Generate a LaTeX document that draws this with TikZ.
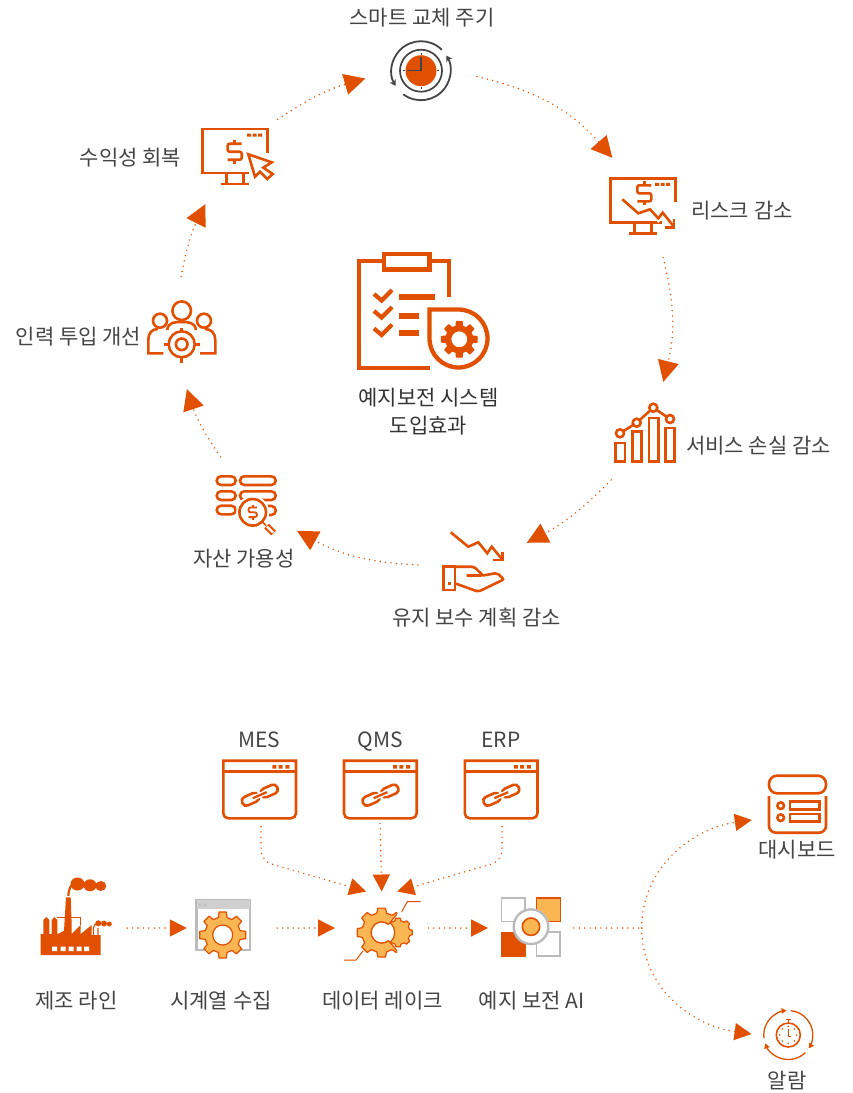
\documentclass[tikz,border=0pt]{standalone}
\usepackage{fontspec}
\setmainfont{Noto Sans CJK KR}
\usepackage{tikz}
\usetikzlibrary{arrows.meta, positioning}
\usepackage{xcolor}
\definecolor{rust}{HTML}{E05000}
\definecolor{honey}{HTML}{FBB654}
\definecolor{ashen}{HTML}{BBBBBB}
\definecolor{inkgray}{HTML}{444444}

\newcommand{\gearpath}[2]{(-14:#2) \foreach \a in {0,45,...,315} { -- (\a-14:#2) -- (\a-9:#1) -- (\a+9:#1) -- (\a+14:#2) } -- cycle}

\tikzset{
  hub/.style={circle, inner sep=0pt, minimum size=112pt},
  spot/.style={rectangle, inner sep=0pt},
  caption/.style={text=inkgray, inner sep=0pt, yshift=-3pt, text height=16pt, text depth=4.5pt, font=\fontsize{21}{24}\selectfont},
  icon/.style={draw=rust, line width=2.6pt, line join=miter},
  ringline/.style={draw=rust, line width=1.6pt, dash pattern=on 0pt off 5.4pt, line cap=round,
    -{Triangle[length=21pt,width=21pt,fill=rust]}},
  flowline/.style={draw=rust, line width=1.6pt, dash pattern=on 0pt off 5.4pt, line cap=round,
    -{Triangle[length=17pt,width=17pt,fill=rust]}},
  pics/dollar/.style={code={
    \draw[rust, rounded corners=2pt] (7,-8) -- (-7,-8) -- (-7,0) -- (7,0) -- (7,8) -- (-7,8);
    \draw[rust] (0,-12) -- (0,-8) (0,8) -- (0,12);
  }},
  pics/gear/.style n args={4}{code={
    \filldraw[draw=rust, fill=#4, line width=1.2pt, line join=round] \gearpath{#1}{#2};
    \filldraw[draw=rust, fill=white, line width=1.2pt] (0,0) circle (#3);
  }},
  pics/monitor/.style={code={
    \draw[icon] (65,24) -- (65,0) -- (0,0) -- (0,44) -- (#1,44);
    \draw[icon] (24,44) -- (24,55) (41,44) -- (41,55);
    \draw[icon, line width=2.8pt] (18.5,55) -- (46.5,55);
    \fill[rust] (44.5,4.6) rectangle +(4,3) (50,4.6) rectangle +(4,3) (55.5,4.6) rectangle +(4,3);
  }},
  pics/linkwin/.style={code={
    \draw[icon] (0,0) -- (72.7,0) {[rounded corners=5pt] -- (72.7,57.6) -- (0,57.6)} -- cycle;
    \draw[icon, line width=3pt] (0,11) -- (72.7,11);
    \fill[rust] (49,4.4) rectangle +(4,3.6) (55.3,4.4) rectangle +(4,3.6) (62,4.4) rectangle +(4,3.6);
    \draw[icon, rotate around={24:(27,38.6)}, rounded corners=4pt] (18.3,34) rectangle (35.7,43.2);
    \draw[icon, rotate around={24:(46,30.3)}, rounded corners=4pt] (37.3,25.7) rectangle (54.7,34.9);
    \draw[white, line width=5pt] (31.9,36.45) -- (41.1,32.45);
    \draw[icon, line width=2.3pt] (29.6,37.45) -- (43.4,31.45);
  }},
}

\begin{document}
\begin{tikzpicture}[x=1pt, y=-1pt]
  \useasboundingbox (0,0) rectangle (852,1093);

  % upper ring
  \node[hub] (clock) at (421,70.7) {};
  \node[hub] (risk) at (643,205) {};
  \node[hub] (loss) at (645,435) {};
  \node[hub] (hand) at (474,562) {};
  \node[hub] (asset) at (246,507) {};
  \node[hub] (people) at (182,333) {};
  \node[hub] (cursor) at (236,157) {};

  \draw[ringline] (clock.-6) to[bend left=18] (risk.123);
  \draw[ringline] (risk.-69) to[bend left=14] (loss.71);
  \draw[ringline] (loss.233) to[bend left=9] (hand.20);
  \draw[ringline] (hand.183) to[bend left=13] (asset.-25);
  \draw[ringline] (asset.117) to[bend left=8] (people.-85);
  \draw[ringline] (people.91) to[bend left=8] (cursor.237);
  \draw[ringline] (cursor.42) to[bend left=9] (clock.188);

  \node[caption] (clocktext) at (422,17) {스마트 교체 주기};
  \node[caption] (cursortext) at (130.5,157) {수익성 회복};
  \node[caption] (risktext) at (742,210) {리스크 감소};
  \node[caption] (losstext) at (758.5,444.5) {서비스 손실 감소};
  \node[caption] (handtext) at (476.5,617) {유지 보수 계획 감소};
  \node[caption] (assettext) at (243.7,558) {자산 가용성};
  \node[caption] (peopletext) at (78.5,336) {인력 투입 개선};
  \node[inner sep=0pt, align=center, font=\fontsize{21}{28}\selectfont, text=black!80] (title) at (428.5,411.5) {예지보전 시스템\\도입효과};

  % clock
  \begin{scope}[shift={(421,70.7)}]
    \draw[inkgray, line width=1.8pt, -{Stealth[length=6pt,width=7pt]}] (-45:29.5) arc[start angle=-45, end angle=-211, radius=29.5];
    \draw[inkgray, line width=1.8pt, -{Stealth[length=6pt,width=7pt]}] (-233:29.5) arc[start angle=-233, end angle=-391, radius=29.5];
    \draw[inkgray, line width=1.7pt] (0,0) circle (21);
    \fill[rust] (0,0) circle (15.5);
    \draw[inkgray, line width=1.5pt] (0,-14) -- (0,0) -- (-14,0);
    \draw[inkgray, line width=1pt] (0,-18) -- (0,-16) (0,16) -- (0,18) (-18,0) -- (-16,0) (16,0) -- (18,0);
  \end{scope}

  % monitor with cursor
  \pic at (202.7,129) {monitor=46.3};
  \pic[line width=2.6pt] at (234.7,151.7) {dollar};
  \draw[icon, fill=white, line join=miter] (248.3,154.3) -- (271.7,162.3) -- (263.3,167.7) -- (272.7,174) -- (267.3,179) -- (260,171.7) -- (255,176.7) -- cycle;

  % monitor with falling curve
  \pic at (610.7,178.3) {monitor=51};
  \pic[line width=2.6pt] at (644.3,193.3) {dollar};
  \draw[white, line width=6pt] (622.3,199.3) -- (638.3,213.3) -- (650,209.3) -- (658.3,218.3) -- (662.7,212.7) -- (674,226.7);
  \draw[icon] (622.3,199.3) -- (638.3,213.3) -- (650,209.3) -- (658.3,218.3) -- (662.7,212.7) -- (674,226.7);
  \draw[icon] (674,219.3) -- (674,227.3) -- (665,227.3);

  % bars with trend
  \draw[icon] (615.7,443) rectangle (625,461.7) (632.3,431.7) rectangle (641.7,461.7) (649,418) rectangle (658.3,461.7) (665.7,428) rectangle (674.3,461.7);
  \draw[icon] (620,433.3) -- (636.7,422.7) -- (653.3,407.7) -- (670,419);
  \draw[icon, fill=white] (620,433.3) circle (4) (636.7,422.7) circle (4) (653.3,407.7) circle (4) (670,419) circle (4);

  % open hand with falling curve
  \draw[icon] (450.7,532.3) -- (468.3,546.7) -- (478.3,542.3) -- (487.3,553.3) -- (491.7,546.7) -- (502.7,560);
  \draw[icon] (502.7,551.7) -- (502.7,560) -- (493.3,560);
  \draw[icon] (443.3,566.7) rectangle (455,590);
  \fill[rust] (448,581.5) rectangle +(3,3.5);
  \draw[icon, rounded corners=2pt] (455,566.7) -- (474,566.7) -- (483,575.5) -- (466.7,575.5) (483,575.5) -- (497,573) -- (504,579.3) -- (478.3,591.7) -- (455,583.3);

  % coins with lens
  \draw[icon, rounded corners=4.3pt] (216.7,476.3) rectangle (235.7,485) (216.7,491.3) rectangle (235.7,500) (216.7,505.7) rectangle (235.7,514.3);
  \draw[icon, rounded corners=4.3pt] (240,476.3) rectangle (275.7,485) (240,491.3) rectangle (275.7,500) (245,506) rectangle (275.7,515);
  \fill[white] (252.7,512.3) circle (16.5);
  \draw[icon] (252.7,512.3) circle (13.3);
  \pic[scale=.6, line width=1.8pt] at (252.7,512.3) {dollar};
  \draw[icon, line width=1.6pt] (262.5,522) -- (266,525.5);
  \draw[icon, line width=6.4pt] (266.5,526) -- (273.5,533);
  \draw[white, line width=2.2pt] (267,526.5) -- (273,532.5);

  % people with target
  \draw[icon] (181.7,310.7) circle (9.3) (160,320.7) circle (7) (204,320.7) circle (7);
  \draw[icon] (167.3,330) .. controls (168,322) and (175,322) .. (181.7,322) .. controls (188,322) and (195,322) .. (196,330);
  \draw[icon] (163.3,353.3) -- (148.3,353.3) -- (148.3,340) .. controls (148.3,333) and (152,329) .. (158,329);
  \draw[icon] (200,353.3) -- (215.3,353.3) -- (215.3,340) .. controls (215.3,333) and (211,329) .. (205,329);
  \fill[white] (181.7,344.3) circle (15);
  \draw[icon] (181.7,344.3) circle (13) (181.7,344.3) circle (5.8);
  \draw[icon] (181.7,327.5) -- (181.7,332) (181.7,356.5) -- (181.7,362.5) (164,344.3) -- (169,344.3) (194.5,344.3) -- (200,344.3);

  % clipboard with gear drop
  \draw[icon, line width=4.3pt] (449,297.3) -- (449,261) -- (359.3,261) -- (359.3,368.3) -- (430,368.3);
  \draw[icon, line width=4.3pt, fill=white] (383.8,253.8) rectangle (429.6,269.6);
  \draw[icon, line width=4.2pt] (374,294) -- (381.7,300.5) -- (392,290);
  \draw[icon, line width=4.2pt] (374,311) -- (381.7,317.5) -- (392,307);
  \draw[icon, line width=4.2pt] (374,328.5) -- (381.7,335) -- (392,324.5);
  \draw[icon, line width=5.8pt] (399,297.3) -- (435,297.3) (399,316) -- (419,316) (399,332.7) -- (419,332.7);
  \draw[icon, line width=4.3pt, fill=white] (429.5,309.5) -- (458.5,309.5) arc[start angle=-90, end angle=180, radius=29] -- cycle;
  \pic at (459.3,339.3) {gear={18}{13.5}{8.6}{rust}};

  % lower row
  \node[spot, minimum width=107pt, minimum height=60pt] (factory) at (73.5,928) {};
  \node[spot, minimum width=90pt, minimum height=60pt] (series) at (232,928) {};
  \node[spot, minimum width=93pt, minimum height=72.6pt] (lake) at (381.7,928) {};
  \node[spot, minimum width=85.4pt, minimum height=60pt] (model) at (531,928) {};
  \node[spot, minimum width=72.7pt, minimum height=57.6pt] (mes) at (261,789.5) {};
  \node[spot, minimum width=72.7pt, minimum height=57.6pt] (qms) at (380,789.5) {};
  \node[spot, minimum width=72.7pt, minimum height=57.6pt] (erp) at (502,789.5) {};
  \node[spot, minimum width=100pt, minimum height=60pt] (board) at (802,820) {};
  \node[spot, minimum width=72.6pt, minimum height=60pt] (alarm) at (788,1034) {};
  \coordinate (mesbend) at (261,861);
  \coordinate (erpbend) at (502,861);
  \coordinate (split) at (641.7,928);

  \draw[flowline, rounded corners=11pt, shorten <=8pt] (mes.south) -- (mesbend) -- (lake.113);
  \draw[flowline, shorten <=5pt] (qms.south) -- (lake.north);
  \draw[flowline, rounded corners=11pt, shorten <=8pt] (erp.south) -- (erpbend) -- (lake.67);
  \draw[flowline] (factory.east) -- (series.west);
  \draw[flowline] (series.east) -- (lake.west);
  \draw[flowline] (lake.east) -- (model.west);
  \draw[flowline, -] (model.east) -- (split);
  \draw[flowline] (split) to[out=90, in=188] (board.west);
  \draw[flowline] (split) to[out=-90, in=172] (alarm.west);

  \node[caption] (mestext) at (259.3,739) {MES};
  \node[caption] (qmstext) at (380,739) {QMS};
  \node[caption] (erptext) at (501,739) {ERP};
  \node[caption] (factorytext) at (76.5,999.5) {제조 라인};
  \node[caption] (seriestext) at (221,999.5) {시계열 수집};
  \node[caption] (laketext) at (382.5,999.5) {데이터 레이크};
  \node[caption] (modeltext) at (531.5,999.5) {예지 보전 AI};
  \node[caption] (boardtext) at (797,848.5) {대시보드};
  \node[caption] (alarmtext) at (787,1080) {알람};

  % link windows
  \pic at (223.3,760.7) {linkwin};
  \pic at (344,760.7) {linkwin};
  \pic at (464.8,760.7) {linkwin};

  % factory
  \fill[rust] (40.7,955) -- (40.7,934) -- (43.3,934) -- (43.3,920) -- (46.3,917) -- (49.3,920) -- (49.3,934) -- (51.7,934) -- (51.7,920) -- (54.5,917) -- (57.3,920) -- (57.3,934) -- (59.3,933.3) -- (64,930.7) -- (66,897.3) -- (70.7,897.3) -- (71.7,925) -- (71.7,934) -- (80.7,925) -- (80.7,934) -- (91.7,925) -- (91.7,935) -- (100.7,935) -- (100.7,955) -- cycle;
  \draw[rust, line width=1pt] (56.7,917.6) -- (80.7,917.6) -- (80.7,925);
  \fill[white] (52,946.7) rectangle +(5,4.3) (60.5,946.7) rectangle +(5,4.3) (68.5,946.7) rectangle +(5,4.3) (76.5,946.7) rectangle +(5,4.3) (84,946.7) rectangle +(5,4.3);
  \draw[rust, line width=2.2pt] (68.3,896) .. controls (68.8,888) and (71,884) .. (76,883);
  \fill[rust] (77.5,884) ellipse (7 and 6.5) (90,885.3) ellipse (6.5 and 6) (100.8,886) ellipse (5.5 and 5);
  \draw[rust, line width=1.2pt] (93.5,935) -- (93.5,928) .. controls (94,925) and (95,924) .. (97,923.5) (98,935) -- (98,928);
  \fill[rust] (98.3,923.3) circle (3) (104,923.5) circle (3) (109.3,924) circle (2.5);

  % series window
  \draw[ashen, line width=2.2pt, fill=white] (196.5,900) rectangle (250,950);
  \fill[ashen!70] (196.5,900) rectangle (250,909);
  \fill[ashen] (199,903.5) rectangle +(2,2.5) (204,903.5) rectangle +(2,2.5);
  \pic at (222.7,935) {gear={23.3}{18}{10}{honey}};

  % data lake gears
  \pic at (381.7,932.5) {gear={24.7}{20}{10.5}{honey}};
  \begin{scope}
    \clip (381.7,932.5) -- ++(-50:50) -- ++(0,77) -- cycle;
    \fill[white] (381.7,932.5) circle (27);
    \begin{scope}[shift={(398,932.5)}]
      \filldraw[draw=rust, fill=honey, line width=1.2pt, line join=round] \gearpath{14.5}{12};
    \end{scope}
    \filldraw[draw=rust, fill=white, line width=1.2pt] (381.7,932.5) circle (13);
  \end{scope}
  \fill[white] (381.7,932.5) circle (10.5);
  \draw[rust, line width=1.2pt] (381.7,932.5) ++(50:10.5) arc[start angle=50, end angle=310, radius=10.5];
  \draw[rust, line width=1.2pt] (381.7,932.5) ++(-50:10.5) -- ++(-50:13) (381.7,932.5) ++(50:10.5) -- ++(50:13);
  \draw[rust, line width=1pt] (401.7,911.7) -- (407.3,901.7) -- (420.7,901.7);
  \draw[rust, line width=1pt] (363.3,950.7) -- (356,960) -- (344,960);

  % model squares
  \draw[ashen, line width=1.8pt, fill=white] (501.5,897.8) rectangle (525,921.5) (536.5,931.8) rectangle (560.3,956);
  \draw[rust, line width=1.5pt, fill=honey] (536.5,897.8) rectangle (560.3,921.5);
  \fill[rust] (501,931.7) rectangle (526,956.7);
  \draw[ashen, line width=2.4pt, fill=white] (531,926.7) circle (17.3);
  \draw[rust, line width=1.6pt, fill=honey] (531,926.7) circle (8.7);

  % dashboard
  \draw[icon, rounded corners=8pt] (769,775.7) rectangle (826,793.3);
  \draw[icon, rounded corners=7pt] (769,796) -- (769,832.7) -- (826,832.7) -- (826,796);
  \draw[icon] (780.7,805.7) circle (3.3) (780.7,817.7) circle (3.3);
  \draw[icon] (790,801.7) rectangle (819.3,809.3) (790,814) rectangle (819.3,821.7);

  % alarm
  \begin{scope}[shift={(788.3,1035)}]
    \draw[rust, line width=1.3pt, -{Triangle[length=5pt,width=5.5pt]}] (172:24.5) arc[start angle=172, end angle=266, radius=24.5];
    \draw[rust, line width=1.3pt, -{Triangle[length=5pt,width=5.5pt]}] (276:24.5) arc[start angle=276, end angle=393, radius=24.5];
    \draw[rust, line width=1.3pt, -{Triangle[length=5pt,width=5.5pt]}] (406:24.5) arc[start angle=406, end angle=520, radius=24.5];
    \draw[rust, line width=1.6pt] (0,0) circle (12);
    \draw[rust, line width=1.4pt] (0,-12) -- (0,-15) (-2.5,-15.5) -- (2.5,-15.5);
    \draw[rust, line width=1pt] (0,-6) -- (0,1) -- (3,1);
    \fill[rust] (0,-8.5) circle (.9) (0,8.5) circle (.9) (8.5,0) circle (.9) (-8.5,0) circle (.9) (6,6) circle (.9) (-6,6) circle (.9) (6,-6) circle (.9) (-6,-6) circle (.9);
  \end{scope}
\end{tikzpicture}
\end{document}
